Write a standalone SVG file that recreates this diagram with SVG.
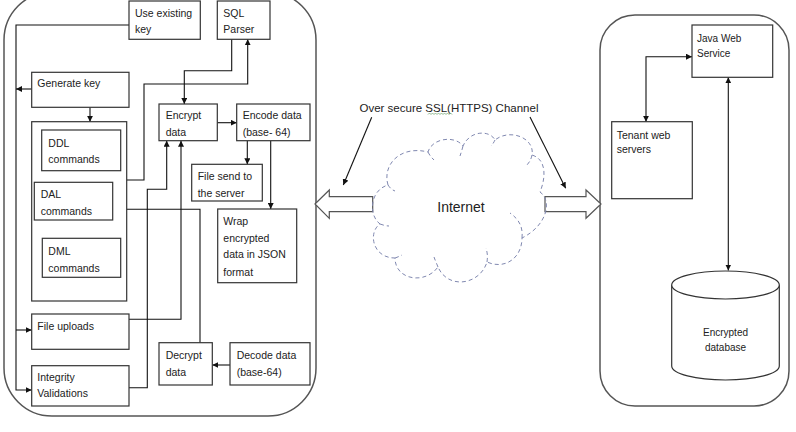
<svg xmlns="http://www.w3.org/2000/svg" width="796" height="432" viewBox="0 0 796 432">
<style>
text{font-family:"Liberation Sans",Arial,sans-serif;font-size:10.5px;fill:#222}
.box{fill:#fff;stroke:#333;stroke-width:1.2}
.panel{fill:none;stroke:#555;stroke-width:1.5}
.c{fill:none;stroke:#111;stroke-width:1.1}
.blk{fill:#fff;stroke:#555;stroke-width:1.2}
.cloud{fill:none;stroke:#8088b0;stroke-width:1;stroke-dasharray:4,3}
</style>
<defs>
<marker id="ah" viewBox="0 0 6 6" refX="6" refY="3" markerWidth="6" markerHeight="6" markerUnits="userSpaceOnUse" orient="auto-start-reverse">
<path d="M0,0 L6,3 L0,6 z" fill="#111"/>
</marker>
</defs>
<rect width="796" height="432" fill="#fff"/>

<rect class="panel" x="4" y="-8" width="312" height="424" rx="48"/>
<rect class="panel" x="600" y="15" width="189" height="391" rx="35"/>

<g id="connectors">
<path class="c" d="M217.3,122.7 H236.7" marker-end="url(#ah)"/>
<path class="c" d="M247.3,140.7 V164.3" marker-end="url(#ah)"/>
<path class="c" d="M270.7,140.7 V209" marker-end="url(#ah)"/>
<path class="c" d="M231.7,39.3 V70.7 H184.3 V104" marker-end="url(#ah)"/>
<path class="c" d="M126.7,180 H144 V84 H247.7 V39.3" marker-end="url(#ah)"/>
<path class="c" d="M129,319.3 H181 V140.7" marker-end="url(#ah)"/>
<path class="c" d="M129,387.7 H147.3 V189.3 H166.7 V140.7" marker-end="url(#ah)"/>
<path class="c" d="M200,342.7 V209.3 H112.7" marker-end="url(#ah)"/>
<path class="c" d="M230,365 H212.3" marker-end="url(#ah)"/>
<path class="c" d="M129,25 H16 V390 H31.7" marker-end="url(#ah)"/>
<path class="c" d="M31.7,89 H16" marker-end="url(#ah)"/>
<path class="c" d="M16,330 H31.7" marker-end="url(#ah)"/>
<path class="c" d="M90,107.3 V121.7" marker-end="url(#ah)"/>
<path class="c" d="M692,56.7 H646 V121.7" marker-start="url(#ah)" marker-end="url(#ah)"/>
<path class="c" d="M728.3,77.3 V270.5" marker-start="url(#ah)" marker-end="url(#ah)"/>
<path class="c" d="M371.7,117.3 L343.3,185" marker-end="url(#ah)"/>
<path class="c" d="M530,117 L565.7,188.3" marker-end="url(#ah)"/>
</g>

<g id="n-use-existing-key"><rect class="box" x="129" y="1" width="71.3" height="38.3"/><text x="135" y="16.5">Use existing</text><text x="135" y="33">key</text></g>
<g id="n-sql-parser"><rect class="box" x="217.3" y="1" width="52.7" height="38.3"/><text x="223.3" y="16.5">SQL</text><text x="223.3" y="33">Parser</text></g>
<g id="n-generate-key"><rect class="box" x="31.7" y="72.3" width="97.3" height="35"/><text x="37.3" y="86.5">Generate key</text></g>
<g id="n-commands"><rect class="box" x="31.7" y="121.7" width="95" height="179.3"/></g>
<g id="n-ddl"><rect class="box" x="41.7" y="130" width="79" height="40.7"/><text x="48.3" y="146.5">DDL</text><text x="48.3" y="163">commands</text></g>
<g id="n-dal"><rect class="box" x="34.3" y="182.3" width="78.4" height="37.7"/><text x="40.7" y="198">DAL</text><text x="40.7" y="214.5">commands</text></g>
<g id="n-dml"><rect class="box" x="42.3" y="238.3" width="78.4" height="39"/><text x="48.3" y="255">DML</text><text x="48.3" y="271.5">commands</text></g>
<g id="n-file-uploads"><rect class="box" x="31.7" y="314" width="97.3" height="35.3"/><text x="37.3" y="330">File uploads</text></g>
<g id="n-integrity"><rect class="box" x="31.7" y="365.7" width="97.3" height="40.3"/><text x="37.3" y="381">Integrity</text><text x="37.3" y="397">Validations</text></g>
<g id="n-encrypt"><rect class="box" x="159" y="104" width="58.3" height="36.7"/><text x="165.7" y="119">Encrypt</text><text x="165.7" y="136">data</text></g>
<g id="n-encode"><rect class="box" x="236.7" y="104" width="73.3" height="36.7"/><text x="242.7" y="119">Encode data</text><text x="242.7" y="136">(base- 64)</text></g>
<g id="n-file-send"><rect class="box" x="191.7" y="164.3" width="70.6" height="36.7"/><text x="197.7" y="180">File send to</text><text x="197.7" y="196.5">the server</text></g>
<g id="n-wrap"><rect class="box" x="217.7" y="209" width="79" height="73.7"/><text x="223.3" y="225">Wrap</text><text x="223.3" y="241.5">encrypted</text><text x="223.3" y="258">data in JSON</text><text x="223.3" y="275.5">format</text></g>
<g id="n-decrypt"><rect class="box" x="159" y="342.7" width="53.3" height="42.3"/><text x="165.7" y="359">Decrypt</text><text x="165.7" y="376">data</text></g>
<g id="n-decode"><rect class="box" x="230" y="342.7" width="80" height="42.3"/><text x="236.7" y="359">Decode data</text><text x="236.7" y="376">(base-64)</text></g>

<g id="n-ssl-label"><text x="359.5" y="111.7" style="font-size:11.5px">Over secure SSL(HTTPS) Channel</text>
<path d="M428,114.5 l1.5,-1.5 l1.5,1.5 l1.5,-1.5 l1.5,1.5 l1.5,-1.5 l1.5,1.5 l1.5,-1.5 l1.5,1.5 l1.5,-1.5 l1.5,1.5 l1.5,-1.5 l1.5,1.5 l1.5,-1.5 l1.5,1.5 l1.5,-1.5 l1.5,1.5" fill="none" stroke="#7a7" stroke-width="0.8"/></g>

<g id="n-left-arrow"><polygon class="blk" points="315,204 329.3,190 329.3,196.7 372.7,196.7 372.7,211.7 329.3,211.7 329.3,218.3"/></g>
<g id="n-right-arrow"><polygon class="blk" points="545,196.7 586,196.7 586,190 601,204 586,218.3 586,211.7 545,211.7"/></g>

<g id="n-internet">
<path class="cloud" d="M388,185 C382,165 400,145 428,152 C432,138 455,135 463,146 C470,130 490,130 495,140 C510,128 535,138 532,155 C548,160 545,180 540,192 C552,200 548,225 522,238 C522,258 505,270 487,262 C480,285 448,290 438,267 C425,285 395,280 395,258 C372,258 368,232 380,224 C368,215 370,190 388,185 Z"/>
<path class="cloud" d="M388,185 C390,188 392,190 395,191 M428,152 C430,156 432,158 434,160 M463,146 C462,150 461,153 460,156 M495,140 C494,142 493,144 491,146 M532,155 C531,160 529,163 526,166 M522,238 C523,228 520,220 510,213 M487,262 C488,255 487,252 486,248 M438,267 C436,262 435,260 434,257 M395,258 C398,257 400,256 402,255 M380,224 C383,225 386,226 389,226"/>
<text x="461" y="211.5" text-anchor="middle" style="font-size:14px">Internet</text>
</g>

<g id="n-java"><rect class="box" x="692" y="25" width="80.7" height="52.3"/><text x="697" y="41.5" style="font-size:10px">Java Web</text><text x="697" y="57" style="font-size:10px">Service</text></g>
<g id="n-tenant"><rect class="box" x="611.7" y="121.7" width="80.6" height="77"/><text x="616.7" y="138.5">Tenant web</text><text x="616.7" y="153">servers</text></g>
<g id="n-db">
<path class="box" d="M671.7,285 A53.8,14 0 0 1 779.3,285 V366 A53.8,14 0 0 1 671.7,366 Z"/>
<path class="box" d="M671.7,285 A53.8,14 0 0 0 779.3,285" fill="none"/>
<text x="725.5" y="336" text-anchor="middle" style="font-size:10px">Encrypted</text>
<text x="725.5" y="350.5" text-anchor="middle" style="font-size:10px">database</text>
</g>
</svg>
